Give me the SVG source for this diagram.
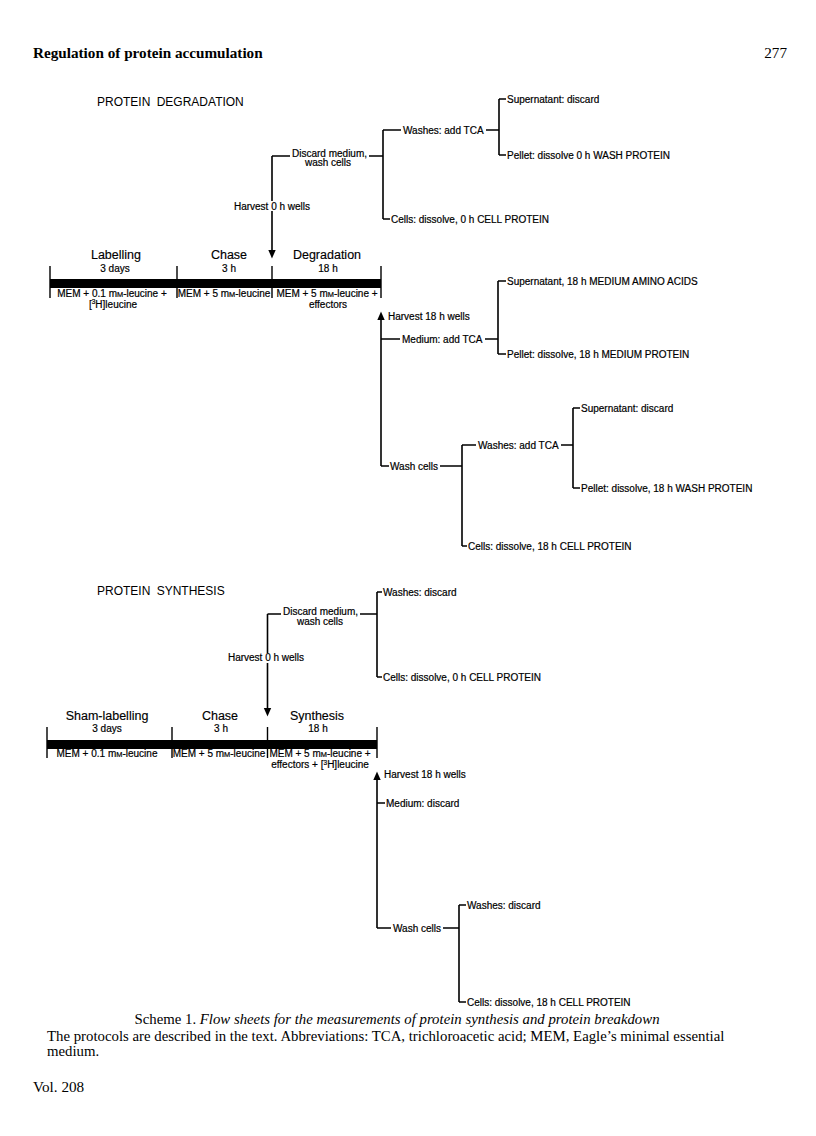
<svg xmlns="http://www.w3.org/2000/svg" width="816" height="1136" viewBox="0 0 816 1136">
<style>
  .ln { stroke: #000; stroke-width: 1.6; fill: none; }
  .tk { stroke: #000; stroke-width: 1.4; fill: none; }
  .bar { fill: #000; }
  .ah { fill: #000; }
  text { font-family: "Liberation Sans", Arial, sans-serif; fill: #000; }
  .lb { font-size: 10px; stroke: #000; stroke-width: 0.2; }
  .ph { font-size: 12.5px; stroke: #000; stroke-width: 0.15; }
  .sm { font-size: 10px; stroke: #000; stroke-width: 0.2; }
  .hd { font-size: 12px; word-spacing: 3px; }
  .c { text-anchor: middle; }
  .sc { font-size: 7.4px; }
  .sup { font-size: 6.5px; }
  .serif { font-family: "Liberation Serif", "Times New Roman", serif; }
  .cap { font-size: 14.8px; }
</style>
<rect width="816" height="1136" fill="#fff"/>

<!-- Page header -->
<g id="page-header">
  <text class="serif" x="33" y="58" font-size="15.2" font-weight="bold">Regulation of protein accumulation</text>
  <text class="serif" x="787" y="58" font-size="15.2" text-anchor="end">277</text>
</g>

<!-- ===================== PROTEIN DEGRADATION ===================== -->
<g id="deg-heading"><text class="hd" x="97" y="106">PROTEIN DEGRADATION</text></g>

<g id="deg-connectors">
  <path class="ln" d="M272,156 V201 M272,211 V251 M272,156 H290 M369,156 H383"/>
  <polygon class="ah" points="268.3,250 275.7,250 272,258.5"/>
  <path class="ln" d="M383,130 V219 M383,130 H401 M486,130 H499 M383,219 H390"/>
  <path class="ln" d="M499,99 V155 M499,99 H506 M499,155 H506"/>
  <path class="tk" d="M50,266 V298 M177,266 V298 M272,266 V298 M381,266 V298"/>
  <polygon class="ah" points="377.3,320 384.7,320 381,311.5"/>
  <path class="ln" d="M381,319 V466"/>
  <path class="ln" d="M381,339 H400 M485,339 H498 M498,281 V354 M498,281 H506 M498,354 H506"/>
  <path class="ln" d="M381,466 H389 M440,466 H462 M462,445 V546 M462,445 H476 M462,546 H467"/>
  <path class="ln" d="M561,445 H573 M573,408 V488 M573,408 H580 M573,488 H580"/>
</g>

<g id="deg-timeline">
  <rect class="bar" x="50" y="279" width="331" height="9"/>
  <text class="ph c" x="116" y="259">Labelling</text>
  <text class="ph c" x="229" y="259">Chase</text>
  <text class="ph c" x="327" y="259">Degradation</text>
  <text class="sm c" x="115" y="272">3 days</text>
  <text class="sm c" x="229" y="272">3 h</text>
  <text class="sm c" x="328" y="272">18 h</text>
  <text class="sm c" x="112" y="297">MEM + 0.1 m<tspan class="sc">M</tspan>-leucine +</text>
  <text class="sm c" x="113" y="307.5">[<tspan class="sup" dy="-3.5">3</tspan><tspan dy="3.5">H]leucine</tspan></text>
  <text class="sm c" x="224" y="297">MEM + 5 m<tspan class="sc">M</tspan>-leucine</text>
  <text class="sm c" x="327" y="297">MEM + 5 m<tspan class="sc">M</tspan>-leucine +</text>
  <text class="sm c" x="328" y="307.5">effectors</text>
</g>

<g id="deg-harvest0"><text class="lb c" x="272" y="209.5">Harvest 0 h wells</text></g>
<g id="deg-discard"><text class="lb" x="292" y="157">Discard medium,</text><text class="lb c" x="328" y="166">wash cells</text></g>
<g id="deg-washes0"><text class="lb" x="403" y="133.5">Washes: add TCA</text></g>
<g id="deg-super0"><text class="lb" x="507" y="102.5">Supernatant: discard</text></g>
<g id="deg-pellet0"><text class="lb" x="507" y="158.5">Pellet: dissolve 0 h WASH PROTEIN</text></g>
<g id="deg-cells0"><text class="lb" x="391" y="222.5">Cells: dissolve, 0 h CELL PROTEIN</text></g>
<g id="deg-harvest18"><text class="lb" x="388" y="319.5">Harvest 18 h wells</text></g>
<g id="deg-medium"><text class="lb" x="402" y="342.5">Medium: add TCA</text></g>
<g id="deg-super18m"><text class="lb" x="507" y="284.5">Supernatant, 18 h MEDIUM AMINO ACIDS</text></g>
<g id="deg-pellet18m"><text class="lb" x="507" y="357.5">Pellet: dissolve, 18 h MEDIUM PROTEIN</text></g>
<g id="deg-wash18"><text class="lb" x="390" y="469.5">Wash cells</text></g>
<g id="deg-washes18"><text class="lb" x="478" y="448.5">Washes: add TCA</text></g>
<g id="deg-super18w"><text class="lb" x="581" y="411.5">Supernatant: discard</text></g>
<g id="deg-pellet18w"><text class="lb" x="581" y="491.5">Pellet: dissolve, 18 h WASH PROTEIN</text></g>
<g id="deg-cells18"><text class="lb" x="468" y="549.5">Cells: dissolve, 18 h CELL PROTEIN</text></g>

<!-- ===================== PROTEIN SYNTHESIS ===================== -->
<g id="syn-heading"><text class="hd" x="97" y="595">PROTEIN SYNTHESIS</text></g>

<g id="syn-connectors">
  <path class="ln" d="M267.5,614 V653 M267.5,663 V709 M267.5,614 H281 M360,614 H377"/>
  <polygon class="ah" points="263.8,708 271.2,708 267.5,716.5"/>
  <path class="ln" d="M377,592 V677 M377,592 H382 M377,677 H382"/>
  <path class="tk" d="M47,727 V758 M172,727 V758 M267.5,727 V758 M377,727 V758"/>
  <polygon class="ah" points="373.3,780 380.7,780 377,771.5"/>
  <path class="ln" d="M377,779 V928 M377,803 H385 M377,928 H391 M443,928 H459 M459,905 V1002 M459,905 H466 M459,1002 H466"/>
</g>

<g id="syn-timeline">
  <rect class="bar" x="47" y="740" width="330" height="9"/>
  <text class="ph c" x="107" y="720">Sham-labelling</text>
  <text class="ph c" x="220" y="720">Chase</text>
  <text class="ph c" x="317" y="720">Synthesis</text>
  <text class="sm c" x="107" y="732">3 days</text>
  <text class="sm c" x="221" y="732">3 h</text>
  <text class="sm c" x="318" y="732">18 h</text>
  <text class="sm c" x="107" y="757">MEM + 0.1 m<tspan class="sc">M</tspan>-leucine</text>
  <text class="sm c" x="219" y="757">MEM + 5 m<tspan class="sc">M</tspan>-leucine</text>
  <text class="sm c" x="320" y="757">MEM + 5 m<tspan class="sc">M</tspan>-leucine +</text>
  <text class="sm c" x="320" y="768">effectors + [<tspan class="sup" dy="-3.5">3</tspan><tspan dy="3.5">H]leucine</tspan></text>
</g>

<g id="syn-harvest0"><text class="lb c" x="266" y="661">Harvest 0 h wells</text></g>
<g id="syn-discard"><text class="lb" x="283" y="615">Discard medium,</text><text class="lb c" x="320" y="625">wash cells</text></g>
<g id="syn-washes0"><text class="lb" x="383" y="595.5">Washes: discard</text></g>
<g id="syn-cells0"><text class="lb" x="383" y="680.5">Cells: dissolve, 0 h CELL PROTEIN</text></g>
<g id="syn-harvest18"><text class="lb" x="384" y="777.5">Harvest 18 h wells</text></g>
<g id="syn-medium"><text class="lb" x="386" y="806.5">Medium: discard</text></g>
<g id="syn-wash18"><text class="lb" x="393" y="931.5">Wash cells</text></g>
<g id="syn-washes18"><text class="lb" x="467" y="908.5">Washes: discard</text></g>
<g id="syn-cells18"><text class="lb" x="467" y="1005.5">Cells: dissolve, 18 h CELL PROTEIN</text></g>

<!-- Caption -->
<g id="caption">
  <text class="serif cap" x="397" y="1024" text-anchor="middle">Scheme 1.  <tspan font-style="italic">Flow sheets for the measurements of protein synthesis and protein breakdown</tspan></text>
  <text class="serif cap" x="47" y="1041">The protocols are described in the text. Abbreviations: TCA, trichloroacetic acid; MEM, Eagle’s minimal essential</text>
  <text class="serif cap" x="47" y="1055.5">medium.</text>
  <text class="serif" x="33" y="1092" font-size="15.2">Vol. 208</text>
</g>
</svg>
